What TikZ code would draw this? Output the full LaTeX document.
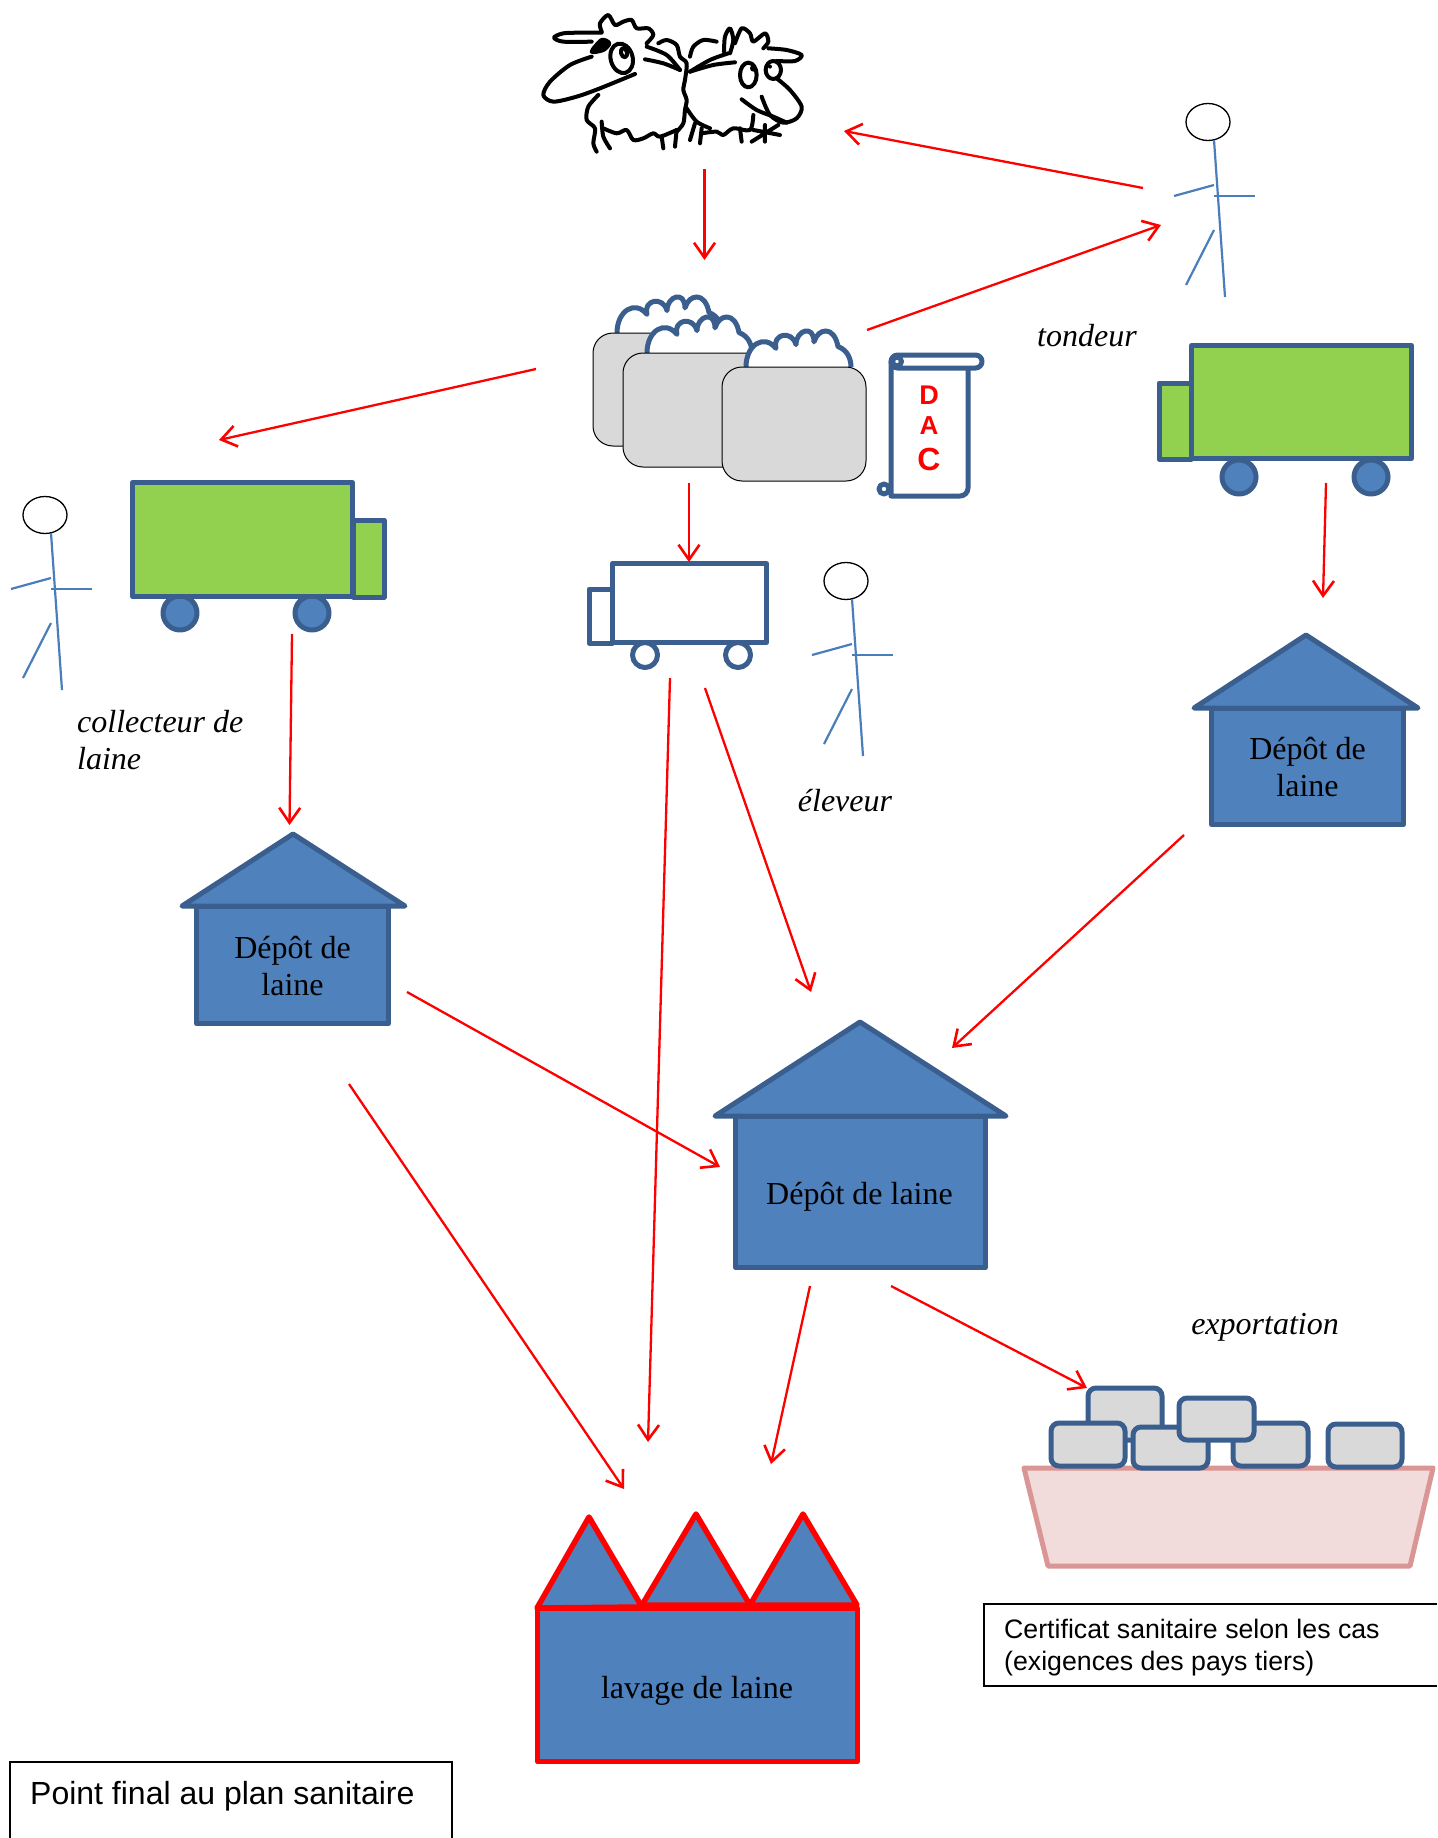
\documentclass[tikz,border=0pt]{standalone}
\usepackage{fontspec}
\setmainfont{Liberation Serif}
\newfontfamily\arialf{Liberation Sans}
\usetikzlibrary{arrows.meta,shapes.geometric}
\definecolor{edgeblue}{HTML}{3A5F8F}
\definecolor{fillblue}{HTML}{4F81BD}
\definecolor{truckgreen}{HTML}{92D050}
\definecolor{balegray}{HTML}{D9D9D9}
\definecolor{boatpink}{HTML}{F2DCDB}
\definecolor{boatedge}{HTML}{D99694}
\definecolor{stickblue}{HTML}{4A7EBB}
\tikzset{
  flow/.style={draw=red,line width=2.3pt,-{Straight Barb[length=15pt,width=21pt,line width=2.6pt]}},
  shapeline/.style={draw=edgeblue,line width=5pt,line join=round},
  housebody/.style={shapeline,fill=fillblue,rectangle,inner sep=0pt},
  houselabel/.style={inner sep=0pt,align=center,font=\fontsize{32}{37.5}\selectfont},
  houseroof/.style={shapeline,fill=fillblue},
  factorybody/.style={draw=red,line width=5.5pt,line join=round,fill=fillblue,rectangle,inner sep=0pt},
  factoryroof/.style={draw=red,line width=5.5pt,line join=round,fill=fillblue},
  truckpart/.style={shapeline,rectangle,inner sep=0pt},
  wheelpart/.style={shapeline,circle,inner sep=0pt,fill=fillblue},
  whitewheel/.style={shapeline,circle,inner sep=0pt,fill=white},
  block/.style={shapeline,fill=balegray,rounded corners=8pt},
  bale/.style={draw=black,line width=1pt,fill=balegray,rounded corners=20pt},
  wool/.style={shapeline,fill=white},
  stickline/.style={draw=stickblue,line width=2.2pt},
  sheepline/.style={draw=black,line width=4pt,line cap=round,line join=round},
  role/.style={font=\fontsize{32}{37.5}\selectfont\itshape,inner sep=0pt,align=left},
  noteline/.style={draw=black,line width=1.6pt},
  notetext/.style={font=\arialf,inner sep=0pt,align=left,anchor=west},
  dac/.style={text=red,font=\arialf\bfseries,inner sep=0pt}
}
\newcommand{\stickman}[3]{%
  \begin{scope}[shift={(#2,#3)}]
    \node[draw=black,line width=1.3pt,ellipse,minimum width=44pt,minimum height=37pt,inner sep=0pt] (#1) at (0,0) {};
    \draw[stickline] (6,18) -- (17,175);
    \draw[stickline] (-34,74) -- (6,63);
    \draw[stickline] (6,74) -- (47,74);
    \draw[stickline] (6,108) -- (-22,163);
  \end{scope}}
\newcommand{\woolcloud}[2]{%
  \begin{scope}[shift={(#1,#2)},yscale=0.93]
  \draw[wool] (0,0) .. controls (0,-24) and (18,-36) .. (30,-20)
    .. controls (26,-36) and (46,-40) .. (50,-24)
    .. controls (50,-40) and (68,-46) .. (68,-27)
    .. controls (72,-42) and (88,-45) .. (92,-22)
    .. controls (102,-18) and (105,-8) .. (105,0);
  \end{scope}}
\begin{document}
\begin{tikzpicture}[x=1pt,y=-1pt]
\useasboundingbox (0,0) rectangle (1437,1838);
\fill[white] (0,0) rectangle (1437,1838);

% sheep
\begin{scope}[shift={(520,0)},x=0.3333pt,y=-0.3333pt,sheepline]
  \draw plot[smooth] coordinates {(245,98)(190,98)(130,100)(102,113)(130,125)(215,125)};
  \draw plot[smooth] coordinates {(245,95)(240,70)(265,45)(285,75)(310,65)(335,60)(350,85)(385,85)(400,105)(380,130)};
  \filldraw plot[smooth cycle] coordinates {(215,155)(245,120)(268,130)(250,150)};
  \draw[rotate around={15:(305,175)}] (305,175) ellipse (33 and 45);
  \draw[rotate around={15:(312,158)}] (312,158) ellipse (9 and 14);
  \draw plot[smooth] coordinates {(215,170)(150,195)(90,245)(70,285)(100,305)(170,290)(240,265)(345,222)};
  \draw plot[smooth] coordinates {(380,140)(440,165)(480,210)};
  \draw plot[smooth] coordinates {(375,178)(430,190)(480,210)};
  \draw plot[smooth] coordinates {(235,285)(205,320)(200,360)(225,385)(220,430)(230,455)};
  \draw plot[smooth] coordinates {(245,365)(250,410)(270,445)};
  \draw plot[smooth] coordinates {(250,385)(290,400)(320,390)(340,420)(370,415)(400,400)(420,410)(470,390)};
  \draw (425,410) -- (430,445) (470,390) -- (465,440);
  \draw plot[smooth] coordinates {(415,130)(440,120)(470,135)(480,170)(500,190)(495,240)(490,270)(500,300)(495,330)(490,370)(470,395)};
  \draw plot[smooth] coordinates {(510,170)(520,140)(550,120)(590,125)};
  \draw plot[smooth] coordinates {(612,155)(615,110)(630,85)(640,120)(630,160)};
  \draw plot[smooth] coordinates {(645,130)(665,85)(690,100)(700,125)(735,100)(745,125)(730,145)};
  \draw plot[smooth] coordinates {(745,145)(800,150)(845,165)(825,183)(770,183)};
  \draw plot[smooth] coordinates {(510,215)(570,180)(625,160)};
  \draw plot[smooth] coordinates {(510,215)(580,195)(645,187)};
  \draw (685,225) ellipse (25 and 37);
  \draw (760,210) ellipse (23 and 27);
  \fill (700,205) circle (10);
  \fill (750,200) circle (6);
  \draw plot[smooth] coordinates {(770,235)(810,270)(845,320)(830,355)(790,368)(750,345)(725,290)};
  \draw plot[smooth] coordinates {(665,298)(710,330)(760,350)(800,368)};
  \draw plot[smooth] coordinates {(500,325)(530,365)(570,385)};
  \draw plot[smooth] coordinates {(545,400)(590,395)(610,405)(640,385)(690,390)(700,345)};
  \draw (525,370) -- (510,420) (545,385) -- (540,430) (660,385) -- (665,425);
  \draw (695,425) -- (775,375) (700,390) -- (780,405) (735,375) -- (735,425);
\end{scope}
\coordinate (sheepS) at (704.5,169);
\coordinate (baleN) at (704.5,260);
\coordinate (sheepE) at (844,131);
\coordinate (tondW1) at (1143,188);
\coordinate (tondW2) at (1161,225);
\coordinate (baleE) at (867,330);
\coordinate (baleW) at (536,369);
\coordinate (truckLN) at (219,440);
\coordinate (baleS) at (689,483);
\coordinate (truckMN) at (689,562);
\coordinate (truckLS) at (292,634);
\coordinate (depotLN) at (289.5,825);
\coordinate (truckRS) at (1326,483);
\coordinate (depotRN) at (1323,598);
\coordinate (truckMS1) at (670,678);
\coordinate (washN1) at (648,1442);
\coordinate (truckMS2) at (705,688);
\coordinate (depotCN1) at (811,992);
\coordinate (depotRS) at (1184,835);
\coordinate (depotCN2) at (952,1048);
\coordinate (depotLE) at (407,992);
\coordinate (depotCW) at (720,1167);
\coordinate (depotLS) at (349,1084);
\coordinate (washN2) at (624,1489);
\coordinate (depotCS1) at (810,1286);
\coordinate (washN3) at (771,1464);
\coordinate (depotCS2) at (891,1286);
\coordinate (boatN) at (1087,1388);

% bales
\woolcloud{617}{333}
\draw[bale] (593,333) rectangle (737,446);
\woolcloud{647}{353}
\draw[bale] (623,353) rectangle (767,467);
\woolcloud{746}{367}
\draw[bale] (722,367) rectangle (866,481);

% scroll
\draw[shapeline,fill=white] (891,362) -- (891,496) [rounded corners=8pt] -- (968,496) [sharp corners] -- (968,366) -- cycle;
\draw[shapeline,fill=white,rounded corners=6.5pt] (891,355) rectangle (982,368);
\filldraw[shapeline,fill=white] (897,361.5) circle (4.5);
\filldraw[shapeline,fill=white] (884,489) circle (5);
\node[dac,font=\arialf\bfseries\fontsize{27}{27}\selectfont] (dacD) at (929,395) {D};
\node[dac,font=\arialf\bfseries\fontsize{26}{26}\selectfont] (dacA) at (929,426) {A};
\node[dac,font=\arialf\bfseries\fontsize{32}{32}\selectfont] (dacC) at (929,459) {C};

% trucks
\node[truckpart,fill=truckgreen,minimum width=31pt,minimum height=77pt] (cabL) at (368.5,558.5) {};
\node[wheelpart,minimum size=34pt] (wheelL1) at (180,613) {};
\node[wheelpart,minimum size=34pt] (wheelL2) at (312,613) {};
\node[truckpart,fill=truckgreen,minimum width=220pt,minimum height=114pt] (bodyL) at (242.5,539.5) {};

\node[truckpart,fill=truckgreen,minimum width=32pt,minimum height=76pt] (cabR) at (1175,421) {};
\node[wheelpart,minimum size=34pt] (wheelR1) at (1239,477) {};
\node[wheelpart,minimum size=34pt] (wheelR2) at (1371,477) {};
\node[truckpart,fill=truckgreen,minimum width=220pt,minimum height=113pt] (bodyR) at (1301.5,402) {};

\node[truckpart,fill=white,minimum width=23pt,minimum height=54pt] (cabM) at (600.5,616) {};
\node[whitewheel,minimum size=25pt] (wheelM1) at (645,655) {};
\node[whitewheel,minimum size=25pt] (wheelM2) at (738,655) {};
\node[truckpart,fill=white,minimum width=154pt,minimum height=79pt] (bodyM) at (689.5,603) {};

% stick figures
\stickman{headL}{45}{515}
\stickman{headM}{846}{581}
\stickman{headR}{1208}{122}

% depots
\draw[houseroof] (182,906) -- (293,834) -- (405,906) -- cycle;
\node[housebody,minimum width=192pt,minimum height=117pt] (depotL) at (292.5,965) {};
\node[houselabel] (depotLtext) at (292.5,966) {Dépôt de\\laine};
\draw[houseroof] (1194,708) -- (1306,635) -- (1418,708) -- cycle;
\node[housebody,minimum width=192pt,minimum height=116pt] (depotR) at (1307.5,766.5) {};
\node[houselabel] (depotRtext) at (1307.5,767) {Dépôt de\\laine};
\draw[houseroof] (715,1116) -- (860,1022) -- (1006,1116) -- cycle;
\node[housebody,minimum width=250pt,minimum height=151pt] (depotC) at (860.5,1192) {};
\node[houselabel] (depotCtext) at (859.5,1196.5) {Dépôt de laine};

% factory
\draw[factoryroof] (537,1608) -- (589,1517) -- (642,1607) -- cycle;
\draw[factoryroof] (642,1605) -- (696,1514) -- (750,1605) -- cycle;
\draw[factoryroof] (750,1605) -- (803,1514) -- (857,1605) -- cycle;
\node[factorybody,minimum width=320pt,minimum height=153pt] (wash) at (697.5,1685) {};
\node[houselabel] (washtext) at (697,1691) {lavage de laine};

% boat and fleeces
\draw[draw=boatedge,line width=5pt,line join=round,fill=boatpink] (1024,1468) -- (1433,1468) -- (1410,1566) -- (1048,1566) -- cycle;
\draw[block] (1088,1388) rectangle (1162,1440);
\draw[block] (1233,1423) rectangle (1308,1466);
\draw[block] (1051,1423) rectangle (1125,1466);
\draw[block] (1133,1427) rectangle (1208,1468);
\draw[block] (1179,1398) rectangle (1254,1440);
\draw[block] (1328,1424) rectangle (1402,1467);

% role labels
\node[role,anchor=center] (tondeur) at (1087,336) {tondeur};
\node[role,anchor=north west] (collecteur) at (77,710) {collecteur de\\laine};
\node[role,anchor=center] (eleveur) at (845,801) {éleveur};
\node[role,anchor=center] (export) at (1265,1327) {exportation};

% note boxes
\draw[noteline] (1437,1604) -- (984,1604) -- (984,1686) -- (1437,1686);
\node[notetext,font=\arialf\fontsize{26.7}{32}\selectfont] (certif) at (1004,1648) {Certificat sanitaire selon les cas\\(exigences des pays tiers)};
\draw[noteline] (10,1838) -- (10,1762) -- (452,1762) -- (452,1838);
\node[notetext,font=\arialf\fontsize{32}{37}\selectfont] (finalnote) at (30,1796) {Point final au plan sanitaire};

% flows
\draw[flow] (sheepS) -- (baleN);
\draw[flow] (tondW1) -- (sheepE);
\draw[flow] (baleE) -- (tondW2);
\draw[flow] (baleW) -- (truckLN);
\draw[flow] (baleS) -- (truckMN);
\draw[flow] (truckLS) -- (depotLN);
\draw[flow] (truckRS) -- (depotRN);
\draw[flow] (truckMS1) -- (washN1);
\draw[flow] (truckMS2) -- (depotCN1);
\draw[flow] (depotRS) -- (depotCN2);
\draw[flow] (depotLE) -- (depotCW);
\draw[flow] (depotLS) -- (washN2);
\draw[flow] (depotCS1) -- (washN3);
\draw[flow] (depotCS2) -- (boatN);
\end{tikzpicture}
\end{document}
